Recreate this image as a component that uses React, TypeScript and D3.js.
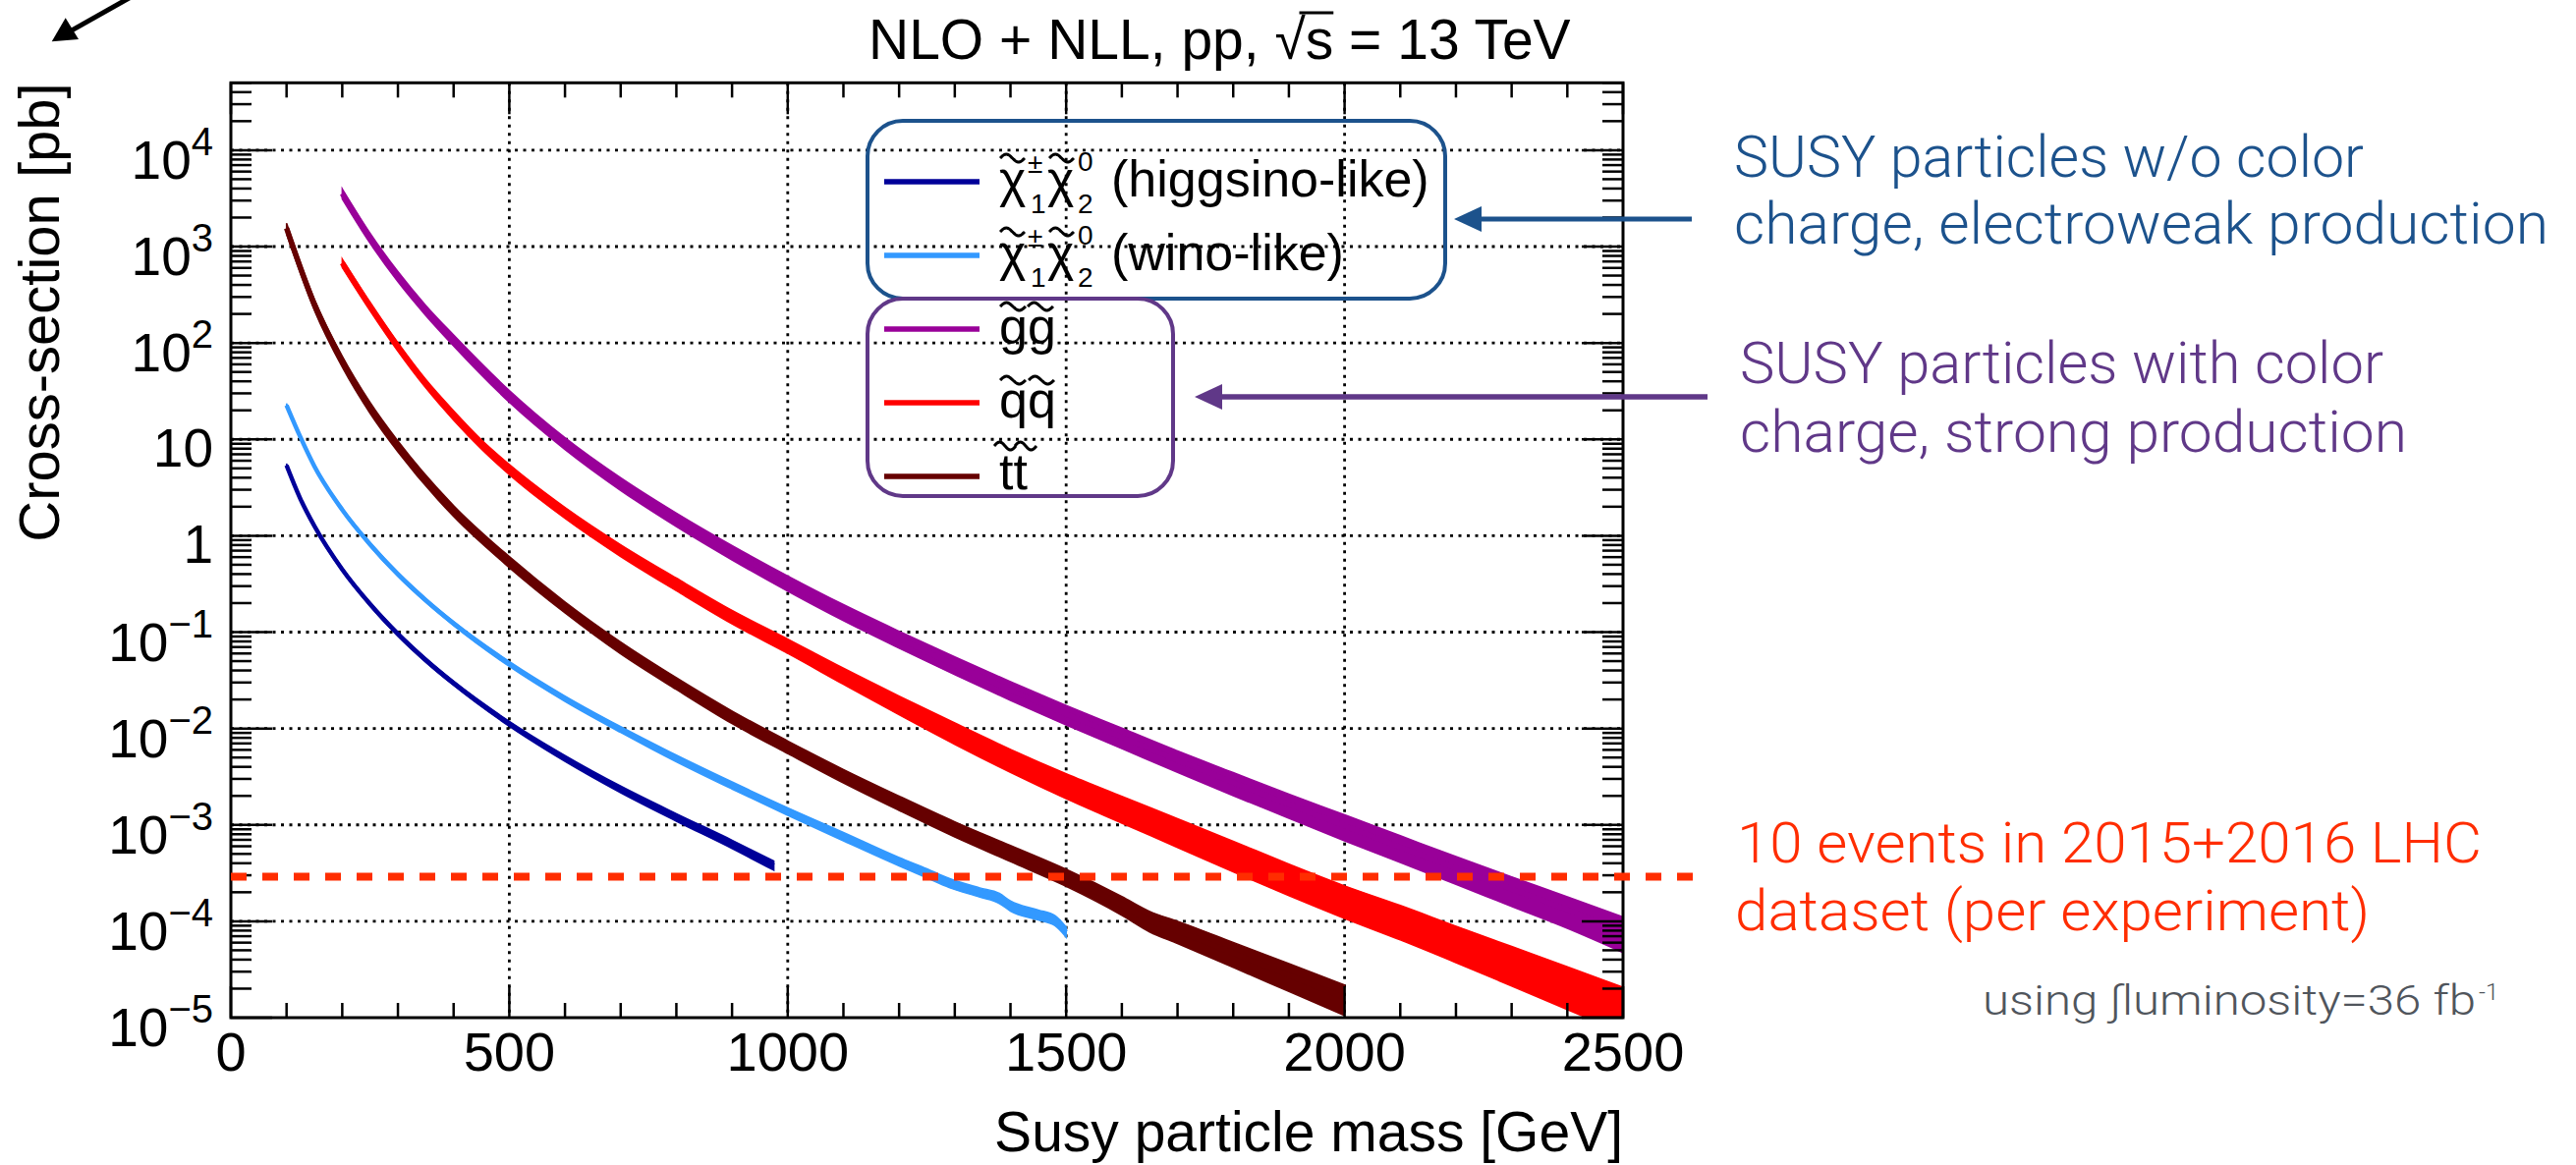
import React, { useLayoutEffect, useRef, useState } from 'react';
import * as d3 from 'd3';

const WIDTH = 2622;
const HEIGHT = 1186;

// ---------------- data ----------------
const higgsinoMass = [100, 125, 150, 200, 250, 300, 350, 400, 500, 600, 700, 800, 900, 975];
const higgsinoXsec = [5.37, 2.4, 1.26, 0.447, 0.195, 0.0955, 0.0513, 0.0295, 0.0112, 0.0049, 0.00234, 0.0012, 0.000631, 0.00038];
const higgsinoUnc = [0.04, 0.04, 0.04, 0.04, 0.045, 0.05, 0.05, 0.05, 0.06, 0.07, 0.08, 0.09, 0.1, 0.11];

const winoMass = [100, 125, 150, 200, 250, 300, 350, 400, 500, 600, 700, 800, 900, 1000, 1100, 1200, 1250, 1290, 1345, 1380, 1400, 1450, 1480, 1500];
const winoXsec = [22.6, 10.5, 5.25, 1.86, 0.813, 0.398, 0.214, 0.123, 0.0468, 0.0204, 0.00977, 0.0049, 0.00257, 0.00138, 0.000759, 0.000417, 0.000316, 0.000251, 0.0002, 0.000174, 0.000145, 0.000117, 0.000102, 0.0000776];
const winoUnc = [0.04, 0.04, 0.04, 0.04, 0.045, 0.05, 0.05, 0.05, 0.06, 0.065, 0.07, 0.08, 0.085, 0.09, 0.1, 0.1, 0.11, 0.11, 0.11, 0.12, 0.12, 0.12, 0.12, 0.12];

const gluinoMass = [200, 250, 300, 350, 400, 500, 600, 700, 800, 900, 1000, 1100, 1200, 1300, 1400, 1500, 1600, 1700, 1800, 1900, 2000, 2100, 2200, 2300, 2400, 2500];
const gluinoXsec = [3548, 1230, 490, 219, 107, 28.2, 9.12, 3.47, 1.48, 0.676, 0.324, 0.162, 0.0851, 0.0457, 0.0251, 0.0141, 0.00813, 0.00468, 0.00275, 0.00163, 0.000977, 0.000589, 0.000355, 0.000216, 0.000132, 0.000079];
const gluinoUnc = [0.12, 0.12, 0.12, 0.12, 0.13, 0.14, 0.14, 0.15, 0.16, 0.17, 0.18, 0.19, 0.2, 0.21, 0.22, 0.23, 0.24, 0.25, 0.27, 0.28, 0.3, 0.31, 0.32, 0.34, 0.36, 0.4];

const squarkMass = [200, 250, 300, 350, 400, 450, 500, 600, 700, 800, 900, 1000, 1100, 1200, 1300, 1400, 1500, 1600, 1700, 1800, 1900, 2000, 2100, 2200, 2300, 2400, 2500];
const squarkXsec = [676, 240, 91.2, 38.0, 17.8, 8.91, 4.9, 1.74, 0.708, 0.316, 0.145, 0.0724, 0.0355, 0.0178, 0.00912, 0.00479, 0.00263, 0.00151, 0.000871, 0.000501, 0.000288, 0.00017, 0.000105, 0.0000631, 0.000038, 0.0000229, 0.0000138];
const squarkUnc = [0.1, 0.1, 0.1, 0.1, 0.11, 0.11, 0.12, 0.13, 0.14, 0.15, 0.16, 0.17, 0.19, 0.22, 0.25, 0.27, 0.29, 0.31, 0.33, 0.35, 0.36, 0.37, 0.39, 0.41, 0.44, 0.47, 0.5];

const stopMass = [100, 150, 200, 250, 300, 400, 500, 600, 700, 800, 900, 1000, 1100, 1200, 1300, 1400, 1500, 1600, 1650, 1700, 1800, 1900, 2000];
const stopXsec = [1549, 251, 64.6, 21.4, 8.51, 1.82, 0.537, 0.182, 0.0692, 0.0295, 0.0132, 0.00646, 0.00324, 0.0017, 0.000912, 0.000513, 0.000288, 0.000148, 0.000102, 0.0000794, 0.0000468, 0.0000275, 0.0000162];
const stopUnc = [0.13, 0.13, 0.13, 0.13, 0.13, 0.13, 0.13, 0.13, 0.14, 0.14, 0.15, 0.15, 0.16, 0.17, 0.18, 0.19, 0.2, 0.22, 0.24, 0.26, 0.29, 0.32, 0.35];

const yTickExponents = [-5, -4, -3, -2, -1, 0, 1, 2, 3, 4];
const xTickValues = [0, 500, 1000, 1500, 2000, 2500];
const tenEventsXsec = 2.9e-4;

const TITLE = 'NLO + NLL, pp, \u221As = 13 TeV';
const X_TITLE = 'Susy particle mass [GeV]';
const Y_TITLE = 'Cross-section [pb]';

const COLORS = {
  higgsino: '#000099',
  wino: '#3399ff',
  gluino: '#990099',
  squark: '#ff0000',
  stop: '#660000',
  ewBox: '#1c528c',
  strongBox: '#603888',
  events: '#ff2d00',
  lumi: '#50555c',
};

const FRAME = { left: 235, right: 1652, top: 84.3, bottom: 1036 };
const FONT = "'Liberation Sans', Arial, Helvetica, sans-serif";
const THIN = "Roboto, 'Liberation Sans', sans-serif";

const x = d3.scaleLinear().domain([0, 2500]).range([FRAME.left, FRAME.right]);
const y = d3.scaleLog().domain([1e-5, 5e4]).range([FRAME.bottom, FRAME.top]);

type Pt = { m: number; v: number; u: number };

const series = [
  { key: 'gluino', color: COLORS.gluino, mass: gluinoMass, xsec: gluinoXsec, unc: gluinoUnc, lw: 5.5 },
  { key: 'squark', color: COLORS.squark, mass: squarkMass, xsec: squarkXsec, unc: squarkUnc, lw: 5.5 },
  { key: 'stop', color: COLORS.stop, mass: stopMass, xsec: stopXsec, unc: stopUnc, lw: 5.5 },
  { key: 'wino', color: COLORS.wino, mass: winoMass, xsec: winoXsec, unc: winoUnc, lw: 4.5 },
  { key: 'higgsino', color: COLORS.higgsino, mass: higgsinoMass, xsec: higgsinoXsec, unc: higgsinoUnc, lw: 4.5 },
];

const areaGen = d3
  .area<Pt>()
  .x((d) => x(d.m))
  .y0((d) => y(d.v * (1 - d.u)))
  .y1((d) => y(d.v * (1 + d.u)))
  .curve(d3.curveMonotoneX);
const lineGen = d3
  .line<Pt>()
  .x((d) => x(d.m))
  .y((d) => y(d.v))
  .curve(d3.curveMonotoneX);

function Tilde({ x0, y0, w, color = '#000' }: { x0: number; y0: number; w: number; color?: string }) {
  const pts: [number, number][] = d3.range(0, 1.0001, 0.05).map((t) => [x0 + w * t, y0 - 4 * Math.sin(2 * Math.PI * t)]);
  const d = d3.line().curve(d3.curveBasis)(pts) || '';
  return <path d={d} fill="none" stroke={color} strokeWidth={3} />;
}

function Arrow({ x1, x2, y0, color, w, hl, hw }: { x1: number; x2: number; y0: number; color: string; w: number; hl: number; hw: number }) {
  return (
    <g>
      <line x1={x1} y1={y0} x2={x2 + hl - 2} y2={y0} stroke={color} strokeWidth={w} />
      <path d={`M${x2},${y0} L${x2 + hl},${y0 - hw} L${x2 + hl},${y0 + hw} Z`} fill={color} />
    </g>
  );
}

export default function App() {
  const titleRef = useRef<SVGTextElement>(null);
  const [bar, setBar] = useState<{ x1: number; x2: number } | null>(null);

  useLayoutEffect(() => {
    const t = titleRef.current;
    if (!t) return;
    const i = TITLE.indexOf('\u221A');
    try {
      const e1 = t.getExtentOfChar(i);
      const e2 = t.getExtentOfChar(i + 1);
      setBar({ x1: e1.x + e1.width * 0.8, x2: e2.x + e2.width });
    } catch (err) {
      /* ignore */
    }
  }, []);

  const yMinor: number[] = [];
  yTickExponents.forEach((e) => {
    for (let k = 2; k <= 9; k++) {
      const v = k * Math.pow(10, e);
      if (v <= 5e4) yMinor.push(v);
    }
  });
  const xMinor = d3.range(0, 2501, 100).filter((v) => v % 500 !== 0);
  const fw = FRAME.right - FRAME.left;
  const fh = FRAME.bottom - FRAME.top;

  const legendRows = [185, 260, 335, 410, 485];
  const legendColors = [COLORS.higgsino, COLORS.wino, COLORS.gluino, COLORS.squark, COLORS.stop];

  const chiLabel = (b: number, tail: string) => (
    <g key={`chi${b}`} fontFamily={FONT} fill="#000">
      <text x={1017} y={b} fontSize={52}>{'\u03C7'}</text>
      <Tilde x0={1018} y0={b - 39} w={25} />
      <text x={1046} y={b - 24} fontSize={28}>{'\u00B1'}</text>
      <text x={1049} y={b + 17} fontSize={28}>1</text>
      <text x={1066} y={b} fontSize={52}>{'\u03C7'}</text>
      <Tilde x0={1068} y0={b - 39} w={25} />
      <text x={1097} y={b - 26} fontSize={28}>0</text>
      <text x={1097} y={b + 17} fontSize={28}>2</text>
      <text x={1131} y={b} fontSize={52}>{tail}</text>
    </g>
  );

  return (
    <svg
      width={WIDTH}
      height={HEIGHT}
      viewBox={`0 0 ${WIDTH} ${HEIGHT}`}
      style={{ position: 'absolute', left: 0, top: 0, background: '#fff', display: 'block' }}
      fontFamily={FONT}
    >
      <rect x={0} y={0} width={WIDTH} height={HEIGHT} fill="#fff" />
      <defs>
        <clipPath id="frameClip">
          <rect x={FRAME.left} y={FRAME.top} width={fw} height={fh} />
        </clipPath>
      </defs>

      {/* grid */}
      <g stroke="#000" strokeWidth={2.8} strokeDasharray="3 5.5">
        {yTickExponents
          .filter((e) => e > -5)
          .map((e) => (
            <line key={`gy${e}`} x1={FRAME.left} x2={FRAME.right} y1={y(Math.pow(10, e))} y2={y(Math.pow(10, e))} />
          ))}
        {xTickValues
          .filter((v) => v > 0 && v < 2500)
          .map((v) => (
            <line key={`gx${v}`} x1={x(v)} x2={x(v)} y1={FRAME.top} y2={FRAME.bottom} />
          ))}
      </g>

      {/* curves */}
      <g clipPath="url(#frameClip)">
        {series.map((s) => {
          const pts: Pt[] = s.mass.map((m, i) => ({ m, v: s.xsec[i], u: s.unc[i] }));
          return (
            <g key={s.key}>
              <path d={areaGen(pts) || ''} fill={s.color} stroke={s.color} strokeWidth={1.5} />
              <path d={lineGen(pts) || ''} fill="none" stroke={s.color} strokeWidth={s.lw} />
            </g>
          );
        })}
      </g>

      {/* ticks */}
      <g stroke="#000" strokeWidth={2.5}>
        {yTickExponents.map((e) => {
          const ty = y(Math.pow(10, e));
          return (
            <g key={`ty${e}`}>
              <line x1={FRAME.left} x2={FRAME.left + 42} y1={ty} y2={ty} />
              <line x1={FRAME.right} x2={FRAME.right - 42} y1={ty} y2={ty} />
            </g>
          );
        })}
        {yMinor.map((v, i) => {
          const ty = y(v);
          return (
            <g key={`tym${i}`}>
              <line x1={FRAME.left} x2={FRAME.left + 21} y1={ty} y2={ty} />
              <line x1={FRAME.right} x2={FRAME.right - 21} y1={ty} y2={ty} />
            </g>
          );
        })}
        {xTickValues.map((v) => (
          <g key={`tx${v}`}>
            <line x1={x(v)} x2={x(v)} y1={FRAME.bottom} y2={FRAME.bottom - 32} />
            <line x1={x(v)} x2={x(v)} y1={FRAME.top} y2={FRAME.top + 32} />
          </g>
        ))}
        {xMinor.map((v) => (
          <g key={`txm${v}`}>
            <line x1={x(v)} x2={x(v)} y1={FRAME.bottom} y2={FRAME.bottom - 15} />
            <line x1={x(v)} x2={x(v)} y1={FRAME.top} y2={FRAME.top + 15} />
          </g>
        ))}
      </g>

      {/* frame */}
      <rect x={FRAME.left} y={FRAME.top} width={fw} height={fh} fill="none" stroke="#000" strokeWidth={3} />

      {/* y tick labels */}
      <g fill="#000" fontFamily={FONT}>
        {yTickExponents.map((e) => {
          const ty = y(Math.pow(10, e));
          if (e === 0)
            return (
              <text key={`ly${e}`} x={217} y={ty + 28} textAnchor="end" fontSize={55}>
                1
              </text>
            );
          if (e === 1)
            return (
              <text key={`ly${e}`} x={217} y={ty + 28} textAnchor="end" fontSize={55}>
                10
              </text>
            );
          return (
            <text key={`ly${e}`} x={217} y={ty + 29} textAnchor="end" fontSize={55}>
              10
              <tspan fontSize={40} dy={-24}>
                {e < 0 ? '\u2212' + -e : String(e)}
              </tspan>
            </text>
          );
        })}
      </g>

      {/* x tick labels */}
      <g fill="#000" fontFamily={FONT} fontSize={56} textAnchor="middle">
        {xTickValues.map((v) => (
          <text key={`lx${v}`} x={x(v)} y={1090}>
            {v}
          </text>
        ))}
      </g>

      {/* axis titles */}
      <text x={FRAME.right} y={1172} textAnchor="end" fontSize={57} fill="#000">
        {X_TITLE}
      </text>
      <text transform={`translate(60,${FRAME.top}) rotate(-90)`} textAnchor="end" fontSize={58} fill="#000">
        {Y_TITLE}
      </text>

      {/* title */}
      <text ref={titleRef} x={884} y={60} fontSize={57} fill="#000">
        {TITLE}
      </text>
      {bar && <line x1={bar.x1} x2={bar.x2} y1={13} y2={13} stroke="#000" strokeWidth={3} />}

      {/* legend boxes */}
      <rect x={883} y={123} width={588} height={181} rx={36} ry={36} fill="none" stroke={COLORS.ewBox} strokeWidth={4} />
      <rect x={883} y={304} width={311} height={201} rx={36} ry={36} fill="none" stroke={COLORS.strongBox} strokeWidth={4} />

      {/* legend lines */}
      {legendRows.map((ly, i) => (
        <line key={`ll${i}`} x1={900} x2={997} y1={ly} y2={ly} stroke={legendColors[i]} strokeWidth={5.5} />
      ))}

      {/* legend labels */}
      {chiLabel(200, '(higgsino-like)')}
      {chiLabel(275, '(wino-like)')}
      <g fill="#000" fontFamily={FONT}>
        <text x={1017} y={350} fontSize={52}>gg</text>
        <Tilde x0={1018} y0={312} w={26} />
        <Tilde x0={1046} y0={312} w={26} />
        <text x={1017} y={425} fontSize={52}>qq</text>
        <Tilde x0={1018} y0={387} w={26} />
        <Tilde x0={1047} y0={387} w={26} />
        <text x={1017} y={498} fontSize={52}>tt</text>
        <Tilde x0={1012} y0={454} w={22} />
        <Tilde x0={1033} y0={454} w={22} />
      </g>

      {/* ten events line */}
      <line
        x1={FRAME.left}
        x2={1729}
        y1={y(tenEventsXsec)}
        y2={y(tenEventsXsec)}
        stroke={COLORS.events}
        strokeWidth={8}
        strokeDasharray="16 16"
      />

      {/* arrows */}
      <Arrow x1={1722} x2={1480} y0={223} color={COLORS.ewBox} w={5} hl={28} hw={13} />
      <Arrow x1={1738} x2={1216} y0={404} color={COLORS.strongBox} w={5.5} hl={28} hw={13} />
      <g>
        <line x1={135} y1={-4} x2={70} y2={32.6} stroke="#000" strokeWidth={5} />
        <path d="M52.7,42.3 L66.7,18.3 L80,40 Z" fill="#000" />
      </g>

      {/* annotations */}
      <g fontFamily={THIN} fontWeight={300}>
        <text x={1765} y={180} fontSize={60} fill={COLORS.ewBox} textLength={641} lengthAdjust="spacingAndGlyphs">
          SUSY particles w/o color
        </text>
        <text x={1765} y={248} fontSize={60} fill={COLORS.ewBox} textLength={829} lengthAdjust="spacingAndGlyphs">
          charge, electroweak production
        </text>
        <text x={1771} y={390} fontSize={60} fill={COLORS.strongBox} textLength={655} lengthAdjust="spacingAndGlyphs">
          SUSY particles with color
        </text>
        <text x={1771} y={460} fontSize={60} fill={COLORS.strongBox} textLength={679} lengthAdjust="spacingAndGlyphs">
          charge, strong production
        </text>
        <text x={1768} y={878} fontSize={58} fill={COLORS.events} textLength={758} lengthAdjust="spacingAndGlyphs">
          10 events in 2015+2016 LHC
        </text>
        <text x={1766} y={947} fontSize={58} fill={COLORS.events} textLength={646} lengthAdjust="spacingAndGlyphs">
          dataset (per experiment)
        </text>
        <text x={2018} y={1033} fontSize={42} fill={COLORS.lumi} textLength={502} lengthAdjust="spacingAndGlyphs">
          using {'\u222B'}luminosity=36 fb
        </text>
        <text x={2523} y={1018} fontSize={24} fill={COLORS.lumi}>
          -1
        </text>
      </g>
    </svg>
  );
}
